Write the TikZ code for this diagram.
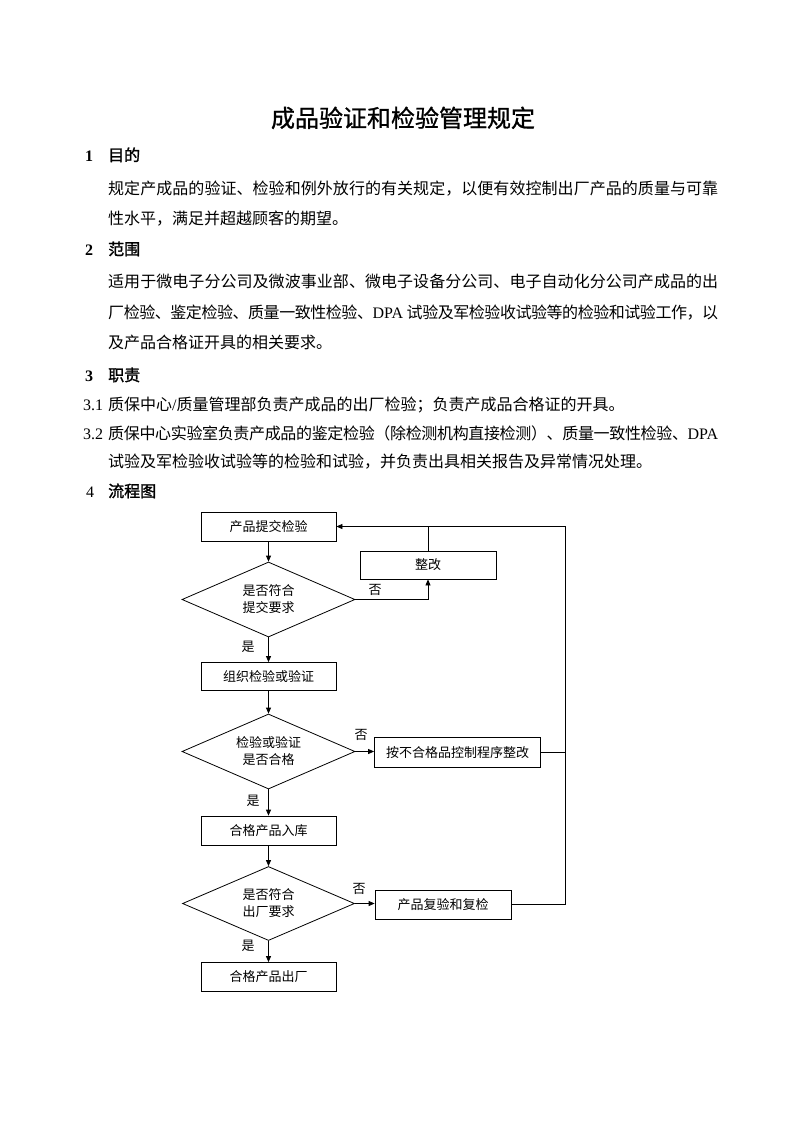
\documentclass[tikz,border=0pt]{standalone}
\usepackage{fontspec}
\setmainfont{Liberation Serif}
\newfontfamily\cjk{Noto Sans CJK SC}
\newfontfamily\cjkb[FakeBold=1.6]{Noto Sans CJK SC}
\newfontfamily\cjkt[FakeBold=1.0]{Noto Sans CJK SC}
\usetikzlibrary{arrows.meta,shapes.geometric}
% justify one line: glue between every character (or braced group)
\def\jspmark{JSPEND}
\def\jspfirst#1{{#1}\jsp}
\def\jsp#1{\def\jsptmp{#1}\ifx\jsptmp\jspmark\else\hskip 0pt plus 1fil minus 1fil{#1}\expandafter\jsp\fi}
\newcommand\jline[2]{\hbox to #1{\jspfirst#2{JSPEND}}}
\def\fcfont{\cjk\fontsize{13}{17}\selectfont}
\begin{document}
\begin{tikzpicture}[x=1pt,y=-1pt,
  body/.style={anchor=base west, inner sep=0, font={\fontsize{16}{19}\selectfont\cjk}},
  num/.style={anchor=base west, inner sep=0, font={\fontsize{16}{19}\selectfont\rmfamily}},
  head/.style={anchor=base west, inner sep=0, font={\fontsize{16}{19}\selectfont\cjkb}},
  box/.style={draw, line width=0.8pt, minimum width=135pt, minimum height=29pt, inner sep=0, font=\fcfont},
  dia/.style={draw, diamond, shape aspect=2.3, line width=0.8pt, minimum width=173pt, minimum height=75pt, inner sep=0, align=center, font=\fcfont},
  lab/.style={inner sep=0, font=\fcfont},
  arr/.style={-{Triangle[length=6pt,width=5pt]}, line width=0.8pt},
  conn/.style={line width=0.8pt}]
\useasboundingbox[fill=white] (0,0) rectangle (793,1122);

% title
\node[anchor=base, inner sep=0, font={\fontsize{24}{28}\selectfont\cjkt}] (title) at (403,127) {成品验证和检验管理规定};

% section 1
\node[num, font={\fontsize{16}{19}\selectfont\bfseries}] (n1) at (85,161) {1};
\node[head] (h1) at (108,161) {目的};
\node[body] (p1a) at (108,194) {\jline{610pt}{规定产成品的验证、检验和例外放行的有关规定，以便有效控制出厂产品的质量与可靠}};
\node[body] (p1b) at (108,224) {性水平，满足并超越顾客的期望。};

% section 2
\node[num, font={\fontsize{16}{19}\selectfont\bfseries}] (n2) at (85,255) {2};
\node[head] (h2) at (108,255) {范围};
\node[body] (p2a) at (108,287) {\jline{610pt}{适用于微电子分公司及微波事业部、微电子设备分公司、电子自动化分公司产成品的出}};
\node[body] (p2b) at (108,318) {\jline{610pt}{厂检验、鉴定检验、质量一致性检验、{\rmfamily DPA\ }试验及军检验收试验等的检验和试验工作，以}};
\node[body] (p2c) at (108,348) {及产品合格证开具的相关要求。};

% section 3
\node[num, font={\fontsize{16}{19}\selectfont\bfseries}] (n3) at (85,381) {3};
\node[head] (h3) at (108,381) {职责};
\node[num] (n31) at (83,410) {3.1};
\node[body] (p31) at (108,410) {质保中心{\rmfamily /}质量管理部负责产成品的出厂检验；负责产成品合格证的开具。};
\node[num] (n32) at (83,439) {3.2};
\node[body] (p32a) at (108,439) {\jline{610pt}{质保中心实验室负责产成品的鉴定检验（除检测机构直接检测）、质量一致性检验、{\rmfamily DPA}}};
\node[body] (p32b) at (108,467) {试验及军检验收试验等的检验和试验，并负责出具相关报告及异常情况处理。};

% section 4
\node[num] (n4) at (86,497) {4};
\node[head] (h4) at (108,497) {流程图};

% flowchart nodes
\node[box] (b1) at (268.5,526.5) {产品提交检验};
\node[dia] (d1) at (268.5,599.5) {是否符合\\提交要求};
\node[box, minimum width=136pt, minimum height=28pt] (zg) at (428,565) {整改};
\node[box, minimum height=28pt] (b2) at (268.5,676.5) {组织检验或验证};
\node[dia] (d2) at (268.5,751.5) {检验或验证\\是否合格};
\node[box, minimum width=166pt, minimum height=30pt] (nc) at (457.5,752.5) {按不合格品控制程序整改};
\node[box] (b3) at (268.5,830.5) {合格产品入库};
\node[dia, minimum width=172pt, minimum height=74pt] (d3) at (268.5,903.5) {是否符合\\出厂要求};
\node[box, minimum width=136pt] (fj) at (443,905) {产品复验和复检};
\node[box] (b4) at (268.5,977) {合格产品出厂};

\coordinate (rt) at (565.5,526.5);
\coordinate (rb) at (565.5,904);

% connectors
\draw[arr] (b1) -- (d1);
\draw[arr] (d1.east) -| (zg.south);
\draw[conn] (zg.north) -- (zg.north |- b1.east);
\draw[arr] (fj.east |- rb) -- (rb) -- (rt) -- (b1.east);
\draw[conn] (nc.east) -- (nc.east -| rt);
\draw[arr] (d1) -- (b2);
\draw[arr] (b2) -- (d2);
\draw[arr] (d2.east) -- (d2.east -| nc.west);
\draw[arr] (d2) -- (b3);
\draw[arr] (b3) -- (d3);
\draw[arr] (d3.east) -- (d3.east -| fj.west);
\draw[arr] (d3) -- (b4);

% labels
\node[lab] (l1) at (375,590) {否};
\node[lab] (l2) at (248,647) {是};
\node[lab] (l3) at (361,735) {否};
\node[lab] (l4) at (253,801) {是};
\node[lab] (l5) at (359,889) {否};
\node[lab] (l6) at (248,946) {是};
\end{tikzpicture}
\end{document}
